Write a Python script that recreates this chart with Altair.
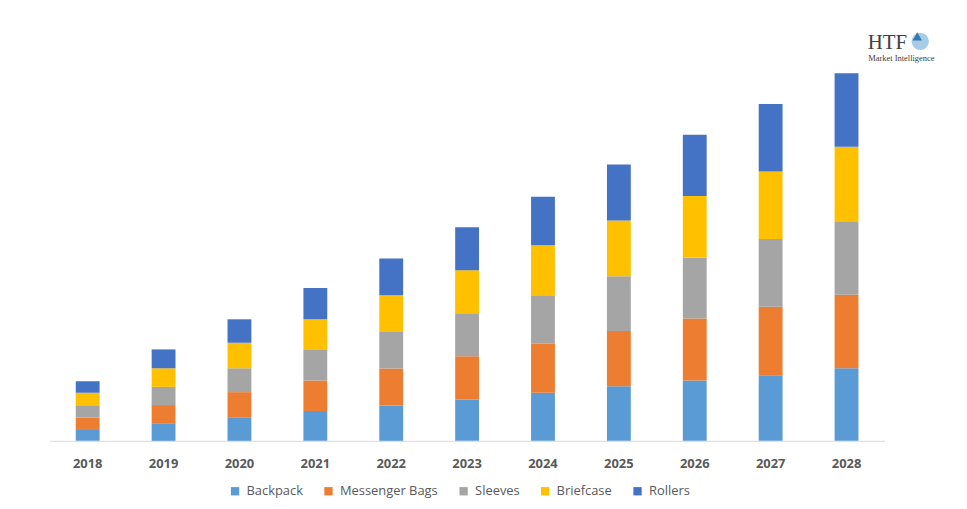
import altair as alt
import pandas as pd

years = ["2018", "2019", "2020", "2021", "2022", "2023", "2024", "2025", "2026", "2027", "2028"]
series = ["Backpack", "Messenger Bags", "Sleeves", "Briefcase", "Rollers"]
colors = ["#5B9BD5", "#ED7D31", "#A5A5A5", "#FFC000", "#4472C4"]

backpack = [11.0, 17.7, 23.7, 30.0, 35.7, 41.7, 48.4, 55.0, 60.6, 66.0, 73.0]
messenger = [12.4, 18.3, 25.3, 30.7, 37.0, 43.3, 49.3, 55.6, 62.4, 69.0, 74.0]
sleeves = [12.3, 18.3, 24.0, 30.6, 36.7, 43.4, 48.7, 55.0, 61.3, 68.0, 74.0]
briefcase = [12.7, 18.7, 25.7, 31.0, 37.0, 43.3, 50.3, 56.0, 62.0, 68.0, 75.0]
rollers = [11.6, 19.0, 23.6, 31.4, 37.0, 43.3, 49.0, 56.4, 61.7, 68.0, 74.0]

values = [backpack, messenger, sleeves, briefcase, rollers]
rows = []
for si, (name, vals) in enumerate(zip(series, values)):
    for y, v in zip(years, vals):
        rows.append({"Year": y, "Segment": name, "Value": v, "order": si})
df = pd.DataFrame(rows)

W, H = 840, 402

bars = alt.Chart(df).mark_bar(size=24).encode(
    x=alt.X("Year:N", sort=years,
            scale=alt.Scale(paddingInner=0.69, paddingOuter=0.345),
            axis=alt.Axis(title=None, labelAngle=0, labelFont="Open Sans",
                          labelFontSize=13, labelFontWeight="bold", labelColor="#595959",
                          labelPadding=17, ticks=False, domainColor="#D9D9D9",
                          domainWidth=1, grid=False)),
    y=alt.Y("Value:Q", stack="zero", scale=alt.Scale(domain=[0, H], nice=False),
            axis=None),
    color=alt.Color("Segment:N", sort=series,
                    scale=alt.Scale(domain=series, range=colors),
                    legend=alt.Legend(title=None, orient="none", direction="horizontal",
                                      legendX=180, legendY=446, symbolType="square",
                                      symbolSize=70, symbolStrokeWidth=0,
                                      labelFont="Open Sans", labelFontSize=13,
                                      labelColor="#595959", columnPadding=19,
                                      labelOffset=5)),
    order=alt.Order("order:Q", sort="ascending"),
)

logo1 = alt.Chart(pd.DataFrame({"t": ["HTF"]})).mark_text(
    font="Liberation Serif", fontSize=21, color="#404040",
    align="center", baseline="middle").encode(
    text="t:N", x=alt.value(843), y=alt.value(2))
logo2 = alt.Chart(pd.DataFrame({"t": ["Market Intelligence"]})).mark_text(
    font="Liberation Serif", fontSize=8.5, color="#404040",
    align="center", baseline="middle").encode(
    text="t:N", x=alt.value(857), y=alt.value(17))
icon1 = alt.Chart(pd.DataFrame({"t": ["a"]})).mark_point(
    shape="circle", filled=True, size=300, color="#7FB8DC", opacity=0.7).encode(
    x=alt.value(876), y=alt.value(0))
icon2 = alt.Chart(pd.DataFrame({"t": ["b"]})).mark_point(
    shape="triangle-up", filled=True, size=90, color="#2E6FA7", opacity=0.9).encode(
    x=alt.value(873), y=alt.value(-5))

chart = alt.layer(bars, logo1, logo2, icon1, icon2).properties(
    width=W, height=H,
    background="white",
    autosize=alt.AutoSizeParams(type="none"),
    padding={"left": 42, "top": 32, "right": 75, "bottom": 60},
).configure_view(stroke=None, strokeWidth=0)

chart.save("out.html", embed_options={"renderer": "svg", "actions": False})
